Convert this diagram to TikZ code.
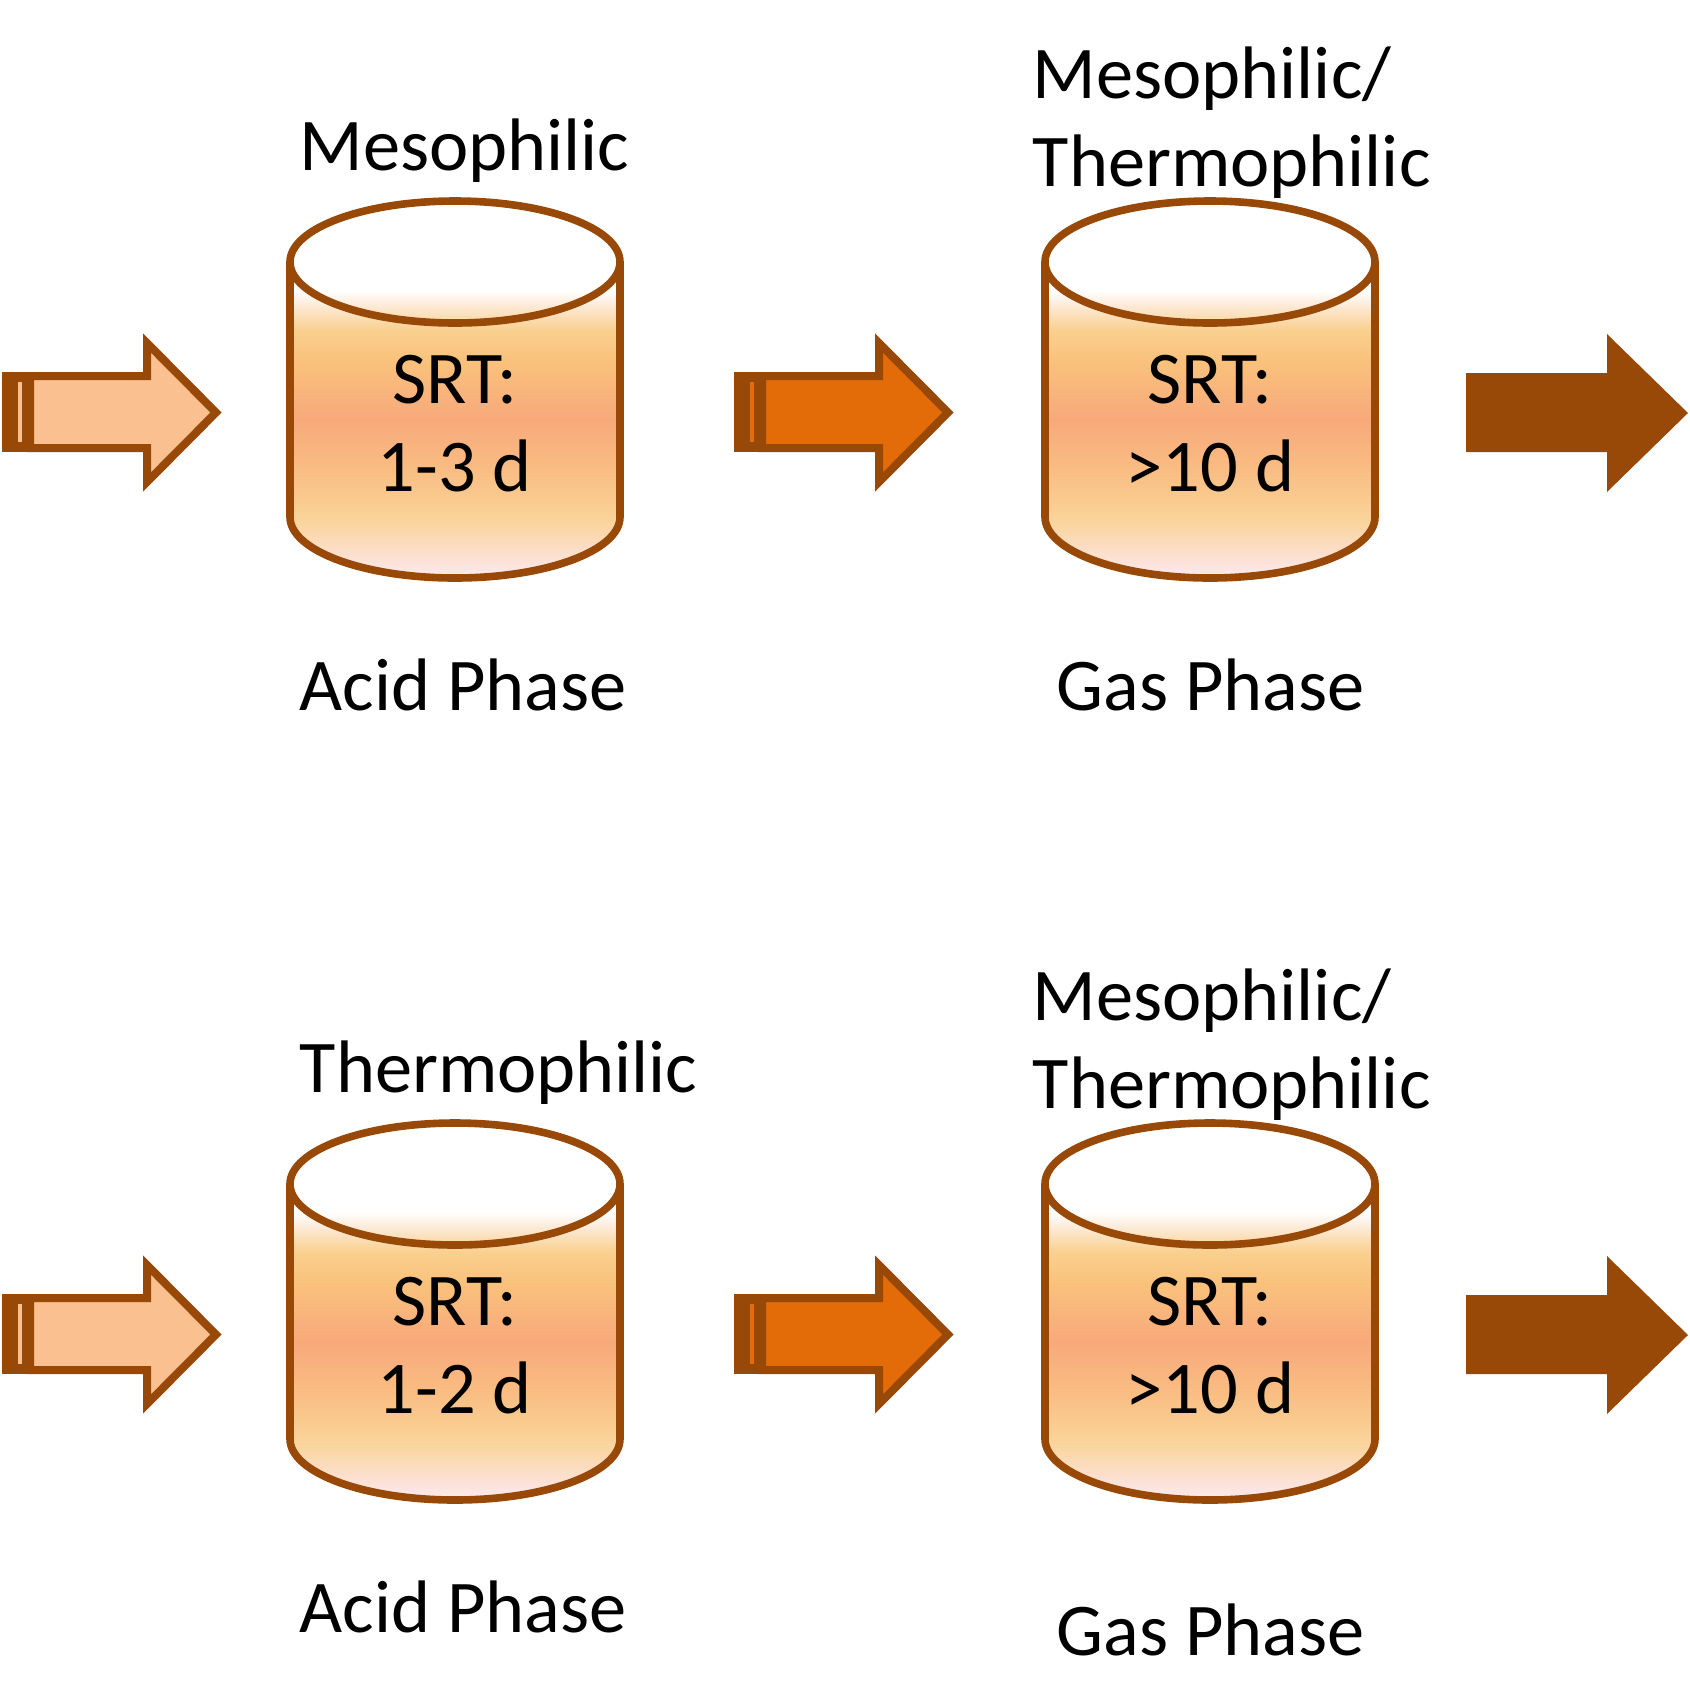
\documentclass[tikz,border=0pt]{standalone}
\usepackage{fontspec}
\setmainfont{Carlito}

\definecolor{rust}{HTML}{984807}
\definecolor{peach}{HTML}{FAC090}
\definecolor{pumpkin}{HTML}{E36C09}
\definecolor{tkpink}{HTML}{FDE9F0}
\definecolor{tkblush}{HTML}{FCE0D0}
\definecolor{tksand}{HTML}{FAD49A}
\definecolor{tkapricot}{HTML}{F9BD82}
\definecolor{tksalmon}{HTML}{F8A97B}
\definecolor{tkamber}{HTML}{F9C27C}
\definecolor{tkcream}{HTML}{FAD08F}
\definecolor{tkivory}{HTML}{FDEBD8}
\pgfdeclareverticalshading{tankshade}{100bp}{%
    color(0bp)=(tkpink); color(25bp)=(tkpink); color(28bp)=(tkblush);
    color(32.7bp)=(tksand); color(39.3bp)=(tkapricot); color(46bp)=(tksalmon);
    color(53.9bp)=(tkamber); color(57.9bp)=(tkcream); color(61.2bp)=(tkivory);
    color(63.2bp)=(white); color(100bp)=(white)}

\begin{document}
\begin{tikzpicture}[%
            x=0.25pt, y=0.25pt,
            tankline/.style={draw=rust, line width=1.9pt},
            blockarrow/.style={draw=rust, line width=2pt, line join=miter},
            tanktext/.style={font=\fontsize{18.6}{22}\selectfont, inner sep=0pt, anchor=base},
            phase/.style={font=\fontsize{18.6}{22}\selectfont, inner sep=0pt, anchor=base west}
    ]
    \useasboundingbox (0,0) rectangle (1690,-1694);

    \foreach \dy in {0,-922} {
        \foreach \cx in {455,1210} {
            \shade[shading=tankshade] (\cx-165,\dy-262) -- ++(0,-255)
                arc[start angle=180, end angle=360, x radius=165, y radius=61]
                -- ++(0,255)
                arc[start angle=0, end angle=180, x radius=165, y radius=61] -- cycle;
            \draw[tankline] (\cx-165,\dy-262) -- ++(0,-255)
                arc[start angle=180, end angle=360, x radius=165, y radius=61]
                -- ++(0,255);
            \draw[tankline] (\cx,\dy-262) ellipse [x radius=165, y radius=61];
        }
        \foreach \L/\col in {2/peach,734/pumpkin} {
            \fill[rust] (\L,\dy-372) rectangle (\L+32,\dy-452);
            \draw[\col, line width=0.8pt] (\L+18,\dy-382) -- (\L+18,\dy-442);
            \draw[blockarrow, fill=\col] (\L+28,\dy-376) -- (\L+145,\dy-376)
                -- (\L+145,\dy-343) -- (\L+214,\dy-412.5) -- (\L+145,\dy-482)
                -- (\L+145,\dy-448) -- (\L+28,\dy-448) -- cycle;
        }
        \fill[rust] (1466,\dy-373) -- (1607,\dy-373) -- (1607,\dy-334)
            -- (1688,\dy-413) -- (1607,\dy-492) -- (1607,\dy-452)
            -- (1466,\dy-452) -- cycle;
    }

    \foreach \r/\dy/\acidtemp/\acidsrt/\gy in
        {a/0/Mesophilic/1-3 d/-710, b/-922/Thermophilic/1-2 d/-1655} {
        \node[phase] (temp\r) at (299,\dy-170) {\acidtemp};
        \node[tanktext] (srt\r) at (455,\dy-403) {SRT:};
        \node[tanktext] (days\r) at (455,\dy-491) {\acidsrt};
        \node[phase] (acid\r) at (299,\dy-710) {Acid Phase};
        \node[phase] (meso\r) at (1032,\dy-98) {Mesophilic/};
        \node[phase] (thermo\r) at (1032,\dy-186) {Thermophilic};
        \node[tanktext] (gsrt\r) at (1210,\dy-403) {SRT:};
        \node[tanktext] (gdays\r) at (1210,\dy-491) {>10 d};
        \node[phase] (gas\r) at (1056,\gy) {Gas Phase};
    }
\end{tikzpicture}
\end{document}
